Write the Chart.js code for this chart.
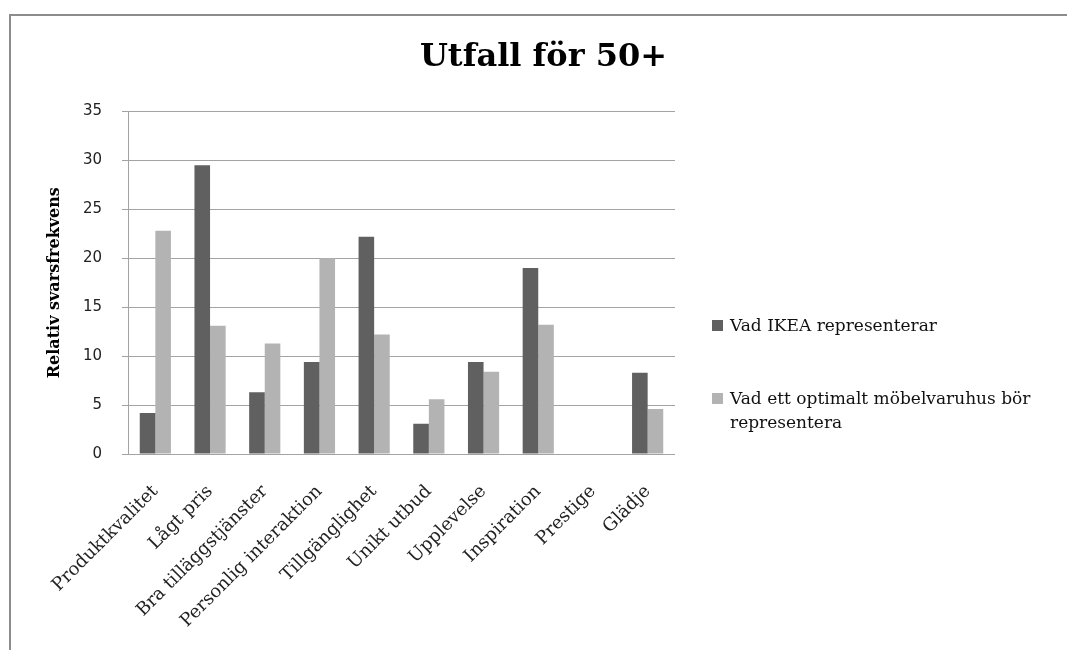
<!DOCTYPE html>
<html>
<head>
<meta charset="utf-8">
<script src="https://cdn.jsdelivr.net/npm/chart.js@4"></script>
<style>
  html, body { margin: 0; padding: 0; background: #fff; }
  #wrap { position: relative; width: 1067px; height: 650px; overflow: hidden; }
  #frame { position: absolute; left: 9px; top: 14px; right: -10px; bottom: -10px;
           border-top: 2px solid #8c8c8c; border-left: 2px solid #8c8c8c; }
  #chart { position: absolute; left: 0; top: 0; }
  #legend { position: absolute; left: 712px; top: 313px; width: 350px;
            font-family: "DejaVu Serif", serif; font-size: 17px; color: #111; }
  .item { display: flex; align-items: flex-start; margin-bottom: 49px; }
  .box { width: 11px; height: 11px; margin: 7px 7px 0 0; flex: none; }
  .txt { width: 330px; line-height: 24px; }
</style>
</head>
<body>
<div id="wrap">
  <div id="frame"></div>
  <canvas id="chart" width="1067" height="650"></canvas>
  <div id="legend"></div>
</div>
<script>
// Kategorier och värden (relativ svarsfrekvens)
const categories = ['Produktkvalitet', 'Lågt pris', 'Bra tilläggstjänster', 'Personlig interaktion',
  'Tillgänglighet', 'Unikt utbud', 'Upplevelse', 'Inspiration', 'Prestige', 'Glädje']
const ikeaValues = [4.2, 29.5, 6.3, 9.4, 22.2, 3.1, 9.4, 19.0, 0, 8.3]
const optimalValues = [22.8, 13.1, 11.3, 20.0, 12.2, 5.6, 8.4, 13.2, 0, 4.6]
const seriesNames = ['Vad IKEA representerar', 'Vad ett optimalt möbelvaruhus bör representera']
const yTicks = [0, 5, 10, 15, 20, 25, 30, 35]

const colors = ['#606060', '#b3b3b3']
const gridColor = '#a3a3a3'

const chart = new Chart(document.getElementById('chart'), {
  type: 'bar',
  data: {
    labels: categories,
    datasets: [
      { label: seriesNames[0], data: ikeaValues, backgroundColor: colors[0] },
      { label: seriesNames[1], data: optimalValues, backgroundColor: colors[1] }
    ]
  },
  options: {
    responsive: false,
    animation: false,
    layout: { padding: { left: 20, right: 0, top: 0, bottom: 0 } },
    datasets: {
      bar: { categoryPercentage: 0.57, barPercentage: 1.0 }
    },
    plugins: {
      legend: { display: false },
      tooltip: { enabled: false },
      title: {
        display: true,
        text: 'Utfall för 50+',
        color: '#000',
        font: { family: 'DejaVu Serif', size: 32, weight: 'bold' },
        padding: { top: 38, bottom: 35 }
      }
    },
    scales: {
      x: {
        grid: { display: false, drawTicks: false },
        border: { display: false },
        ticks: {
          color: '#222',
          font: { family: 'DejaVu Serif', size: 18 },
          minRotation: 45,
          maxRotation: 45,
          autoSkip: false,
          padding: 27
        },
        afterFit: (s) => { s.height = 196 }
      },
      y: {
        min: 0,
        max: 35,
        afterBuildTicks: (s) => { s.ticks = yTicks.map(v => ({ value: v })) },
        grid: { color: gridColor, tickLength: 6, tickColor: gridColor },
        border: { display: true, color: gridColor },
        ticks: {
          color: '#222',
          font: { family: 'DejaVu Sans', size: 15 },
          padding: 20
        },
        title: {
          display: true,
          text: 'Relativ svarsfrekvens',
          color: '#000',
          font: { family: 'DejaVu Serif', size: 16, weight: 'bold' },
          padding: { top: 25, bottom: 0 }
        },
        afterFit: (s) => { s.width = 108 }
      },
      // tom skala till höger som ger plats åt förklaringen
      spacer: {
        type: 'linear',
        position: 'right',
        display: true,
        grid: { display: false },
        border: { display: false },
        ticks: { display: false },
        afterFit: (s) => { s.width = 392 }
      }
    }
  }
})

// Förklaring som HTML så att den andra raden kan radbrytas
const legend = document.getElementById('legend')
chart.data.datasets.forEach(ds => {
  const item = document.createElement('div')
  item.className = 'item'
  item.innerHTML = `<span class="box" style="background:${ds.backgroundColor}"></span><span class="txt">${ds.label}</span>`
  legend.appendChild(item)
})
</script>
</body>
</html>
